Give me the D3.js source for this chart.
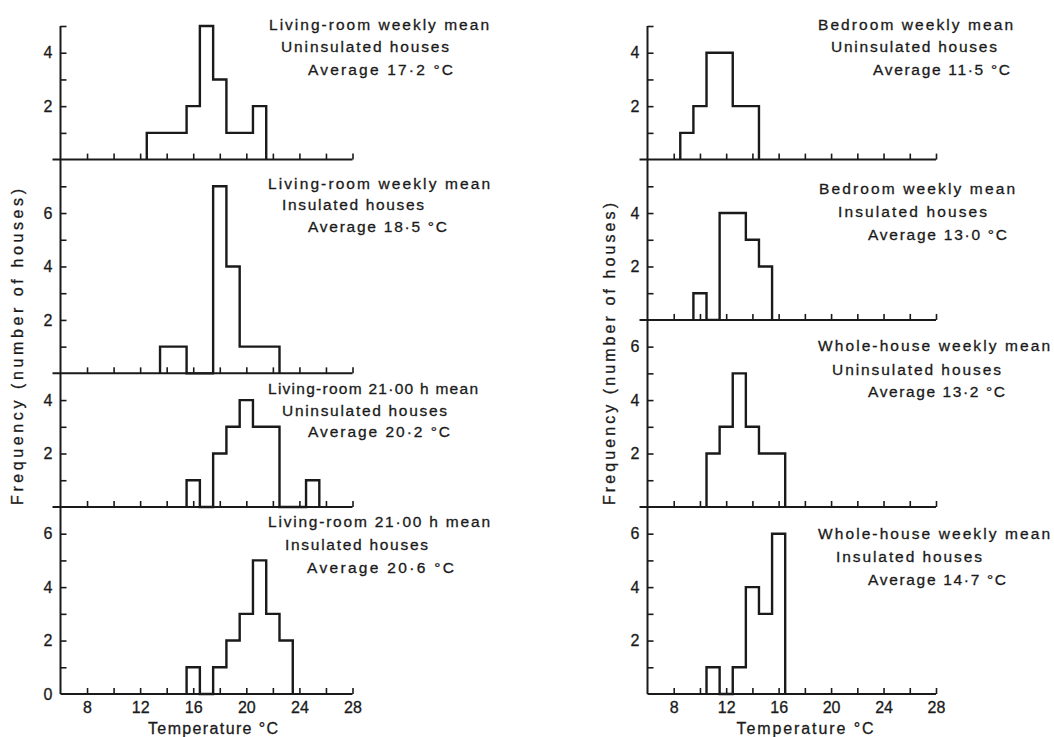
<!DOCTYPE html>
<html>
<head>
<meta charset="utf-8">
<script src="https://cdnjs.cloudflare.com/ajax/libs/d3/7.8.5/d3.min.js"></script>
<style>
  html, body { margin: 0; padding: 0; background: #fff; }
  svg text { font-family: "Liberation Sans", Arial, Helvetica, sans-serif; fill: #1a1a1a; stroke: #1a1a1a; stroke-width: 0.3; }
  .tick line { stroke: #1a1a1a; stroke-width: 1.6; }
  .tick text { font-size: 16px; }
</style>
</head>
<body>
<div id="chart"></div>
<script>
// bin centres, degC (bins are 1 degree wide)
const binCentres = [8, 9, 10, 11, 12, 13, 14, 15, 16, 17, 18, 19, 20, 21, 22, 23, 24, 25, 26];

// number of houses in each bin
const livingWeeklyUninsulated = [0, 0, 0, 0, 0, 1, 1, 1, 2, 5, 3, 1, 1, 2, 0, 0, 0, 0, 0];
const livingWeeklyInsulated   = [0, 0, 0, 0, 0, 0, 1, 1, 0, 0, 7, 4, 1, 1, 1, 0, 0, 0, 0];
const living2100Uninsulated   = [0, 0, 0, 0, 0, 0, 0, 0, 1, 0, 2, 3, 4, 3, 3, 0, 0, 1, 0];
const living2100Insulated     = [0, 0, 0, 0, 0, 0, 0, 0, 1, 0, 1, 2, 3, 5, 3, 2, 0, 0, 0];
const bedroomUninsulated      = [0, 1, 2, 4, 4, 2, 2, 0, 0, 0, 0, 0, 0, 0, 0, 0, 0, 0, 0];
const bedroomInsulated        = [0, 0, 1, 0, 4, 4, 3, 2, 0, 0, 0, 0, 0, 0, 0, 0, 0, 0, 0];
const wholeHouseUninsulated   = [0, 0, 0, 2, 3, 5, 3, 2, 2, 0, 0, 0, 0, 0, 0, 0, 0, 0, 0];
const wholeHouseInsulated     = [0, 0, 0, 1, 0, 1, 4, 3, 6, 0, 0, 0, 0, 0, 0, 0, 0, 0, 0];

// panel captions
const titlesLeft = [
  ['Living-room weekly mean', 'Uninsulated houses', 'Average 17·2 °C'],
  ['Living-room weekly mean', 'Insulated houses', 'Average 18·5 °C'],
  ['Living-room 21·00 h mean', 'Uninsulated houses', 'Average 20·2 °C'],
  ['Living-room 21·00 h mean', 'Insulated houses', 'Average 20·6 °C']
];
const titlesRight = [
  ['Bedroom weekly mean', 'Uninsulated houses', 'Average 11·5 °C'],
  ['Bedroom weekly mean', 'Insulated houses', 'Average 13·0 °C'],
  ['Whole-house weekly mean', 'Uninsulated houses', 'Average 13·2 °C'],
  ['Whole-house weekly mean', 'Insulated houses', 'Average 14·7 °C']
];

// axes
const xDomain = [6, 28];
const xTicks = [8, 10, 12, 14, 16, 18, 20, 22, 24, 26, 28];
const xTickLabels = [8, 12, 16, 20, 24, 28];
const yMaxLeft = [5, 8, 5, 7];
const yMaxRight = [5, 6, 7, 7];
const yTicksLeft = [[1, 2, 3, 4, 5], [1, 2, 3, 4, 5, 6, 7], [1, 2, 3, 4], [0, 1, 2, 3, 4, 5, 6]];
const yTicksRight = [[1, 2, 3, 4, 5], [1, 2, 3, 4, 5], [1, 2, 3, 4, 5, 6], [1, 2, 3, 4, 5, 6]];
const xTitle = 'Temperature °C';
const yTitle = 'Frequency (number of houses)';

// ---- layout ----
const W = 1054, H = 737;
const UNIT = 26.72;
const BOTTOM = 694;
const ink = '#1a1a1a';

// per column: x range, title line offsets / widths, baselines per panel
const columns = [
  {
    series: [livingWeeklyUninsulated, livingWeeklyInsulated, living2100Uninsulated, living2100Insulated],
    titles: titlesLeft, yMax: yMaxLeft, yTicks: yTicksLeft,
    xRange: [60.5, 352.5],
    titleX: [[269, 281, 308], [268, 282, 308], [268, 282, 308], [268, 285, 307]],
    titleW: [[220, 168, 145], [222, 142, 139], [210, 165, 142], [222, 143, 147]],
    titleY: [[30, 52, 74.5], [188.5, 210, 232], [393.5, 415.5, 437], [527, 550, 573]],
    xTitleX: 213, xTitleW: 130,
    yTitleX: 23, yTitleY: 347, yTitleW: 316
  },
  {
    series: [bedroomUninsulated, bedroomInsulated, wholeHouseUninsulated, wholeHouseInsulated],
    titles: titlesRight, yMax: yMaxRight, yTicks: yTicksRight,
    xRange: [647.5, 936],
    titleX: [[818, 831, 873], [819, 838, 868], [818, 832, 868], [818, 836, 868]],
    titleW: [[195, 166, 137], [196, 149, 139], [232, 169, 137], [232, 146, 138]],
    titleY: [[30, 52, 74.5], [193.5, 217, 239.5], [351, 374.5, 396.5], [538.5, 562, 584.5]],
    xTitleX: 805, xTitleW: 137,
    yTitleX: 615, yTitleY: 354, yTitleW: 302
  }
];

const svg = d3.select('#chart').append('svg')
  .attr('width', W)
  .attr('height', H)
  .style('background', '#fff');

columns.forEach(col => {
  const x = d3.scaleLinear().domain(xDomain).range(col.xRange);
  const axisX = x(xDomain[0]);
  const g = svg.append('g');

  // stack panels upward from the common bottom line
  const total = d3.sum(col.yMax);
  let top = BOTTOM - total * UNIT;

  // continuous y axis line
  g.append('line')
    .attr('x1', axisX).attr('x2', axisX)
    .attr('y1', top).attr('y2', BOTTOM)
    .attr('stroke', ink).attr('stroke-width', 2);

  col.series.forEach((counts, p) => {
    const yMax = col.yMax[p];
    const base = top + yMax * UNIT;
    const y = d3.scaleLinear().domain([0, yMax]).range([base, top]);
    const isBottom = p === col.series.length - 1;

    // x axis: ticks point up into the panel
    const xAxis = d3.axisBottom(x)
      .tickValues(xTicks)
      .tickSizeInner(-6)
      .tickSizeOuter(0)
      .tickPadding(8)
      .tickFormat(d => (isBottom && xTickLabels.includes(d)) ? d : '');
    const gx = g.append('g')
      .attr('transform', `translate(0,${base})`)
      .call(xAxis);
    gx.select('.domain').remove();

    // baseline, stuck out left of the y axis except on the bottom panel
    g.append('line')
      .attr('x1', isBottom ? axisX : axisX - 8)
      .attr('x2', x(xDomain[1]))
      .attr('y1', base).attr('y2', base)
      .attr('stroke', ink).attr('stroke-width', 2);

    // y axis ticks point right, labels on the left
    const yAxis = d3.axisLeft(y)
      .tickValues(col.yTicks[p])
      .tickSizeInner(-6)
      .tickSizeOuter(0)
      .tickPadding(8)
      .tickFormat(d => d % 2 === 0 ? d : '');
    const gy = g.append('g')
      .attr('transform', `translate(${axisX},0)`)
      .call(yAxis);
    gy.select('.domain').remove();
    gy.selectAll('.tick').filter(d => d === 0).select('line').remove();

    // histogram outline
    const first = counts.findIndex(v => v > 0);
    const last = counts.length - 1 - [...counts].reverse().findIndex(v => v > 0);
    const pts = [[binCentres[first] - 0.5, 0]];
    for (let i = first; i <= last; i++) pts.push([binCentres[i] - 0.5, counts[i]]);
    pts.push([binCentres[last] + 0.5, 0]);

    g.append('path')
      .datum(pts)
      .attr('fill', 'none')
      .attr('stroke', ink)
      .attr('stroke-width', 2.4)
      .attr('stroke-linejoin', 'miter')
      .attr('d', d3.line()
        .x(d => x(d[0]))
        .y(d => y(d[1]))
        .curve(d3.curveStepAfter));

    // caption
    col.titles[p].forEach((line, k) => {
      g.append('text')
        .attr('x', col.titleX[p][k])
        .attr('y', col.titleY[p][k])
        .attr('font-size', 15.5)
        .attr('textLength', col.titleW[p][k])
        .attr('lengthAdjust', 'spacing')
        .text(line);
    });

    top = base;
  });

  // axis titles
  g.append('text')
    .attr('x', col.xTitleX)
    .attr('y', 734)
    .attr('text-anchor', 'middle')
    .attr('font-size', 16)
    .attr('textLength', col.xTitleW)
    .text(xTitle);

  g.append('text')
    .attr('transform', `translate(${col.yTitleX},${col.yTitleY}) rotate(-90)`)
    .attr('text-anchor', 'middle')
    .attr('font-size', 16)
    .attr('textLength', col.yTitleW)
    .text(yTitle);
});
</script>
</body>
</html>
